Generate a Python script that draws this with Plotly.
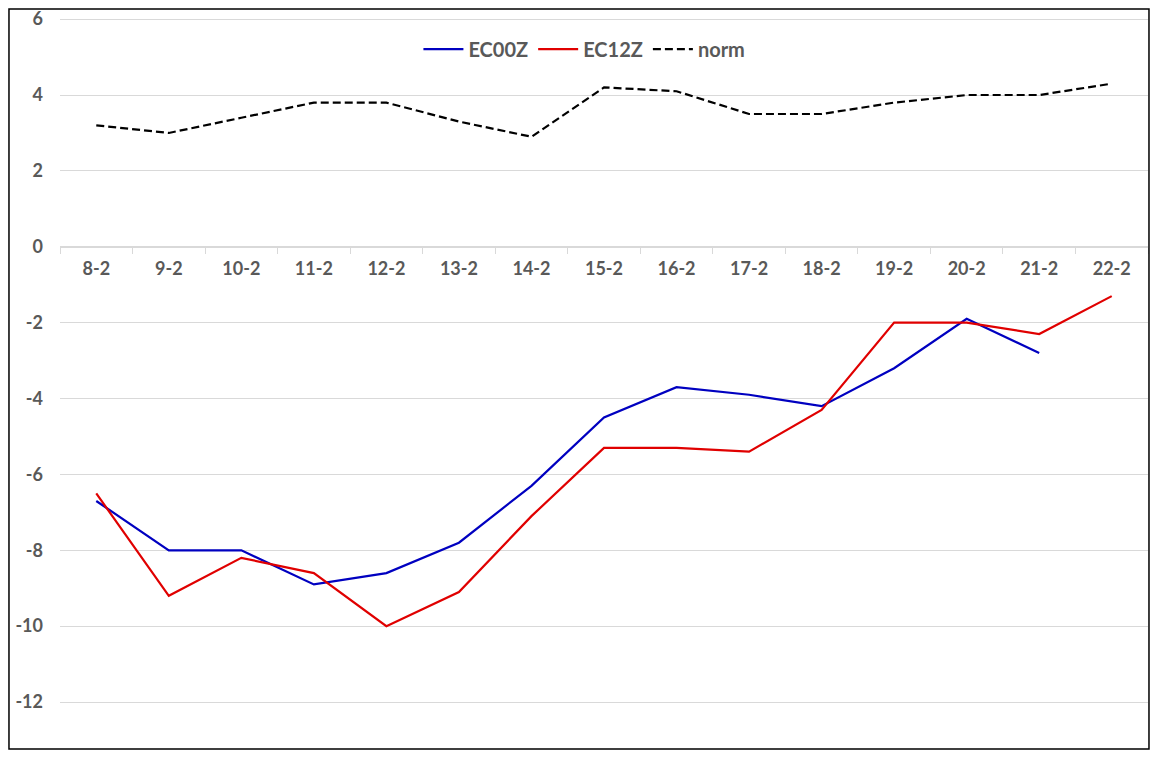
import plotly.graph_objects as go

dates = ["8-2", "9-2", "10-2", "11-2", "12-2", "13-2", "14-2", "15-2",
         "16-2", "17-2", "18-2", "19-2", "20-2", "21-2", "22-2"]
ec00z = [-6.7, -8.0, -8.0, -8.9, -8.6, -7.8, -6.3, -4.5,
         -3.7, -3.9, -4.2, -3.2, -1.9, -2.8, None]
ec12z = [-6.5, -9.2, -8.2, -8.6, -10.0, -9.1, -7.1, -5.3,
         -5.3, -5.4, -4.3, -2.0, -2.0, -2.3, -1.3]
norm = [3.2, 3.0, 3.4, 3.8, 3.8, 3.3, 2.9, 4.2,
        4.1, 3.5, 3.5, 3.8, 4.0, 4.0, 4.3]
y_ticks = [-12, -10, -8, -6, -4, -2, 0, 2, 4, 6]
y_tick_labels = ["-12", "-10", "-8", "-6", "-4", "-2", "0", "2", "4", "6"]

y_min, y_max = -13, 6
grey = "#595959"

fig = go.Figure()
fig.add_trace(go.Scatter(x=dates, y=ec00z, name="EC00Z", mode="lines",
                         line=dict(color="#0000C0", width=2.2)))
fig.add_trace(go.Scatter(x=dates, y=ec12z, name="EC12Z", mode="lines",
                         line=dict(color="#E00000", width=2.2)))
fig.add_trace(go.Scatter(x=dates, y=norm, name="norm", mode="lines",
                         line=dict(color="black", width=2.2, dash="8px,4px")))

# x axis sits on y = 0, like the Excel original
top = y_max + 0.03
zero_pos = (0 - y_min) / (top - y_min)

fig.update_layout(
    width=1142,
    height=742,
    margin=dict(l=52, r=2, t=10, b=10),
    plot_bgcolor="white",
    paper_bgcolor="white",
    font=dict(family="Lato", color=grey),
    legend=dict(orientation="h", x=0.482, xanchor="center", y=0.957, yanchor="middle",
                font=dict(size=20, family="Lato", weight="bold", color=grey),
                bgcolor="rgba(0,0,0,0)", itemwidth=40, tracegroupgap=0),
    xaxis=dict(type="category", range=[-0.5, 14.5], anchor="free", position=zero_pos,
               showline=True, linecolor="#d9d9d9", linewidth=1,
               ticks="outside", tickson="boundaries", ticklen=6, tickcolor="#d9d9d9",
               showgrid=False, ticklabelstandoff=6,
               tickfont=dict(size=18, weight="bold", color=grey)),
    yaxis=dict(range=[y_min, top], tickvals=y_ticks, ticktext=y_tick_labels,
               showgrid=True, gridcolor="#d9d9d9", ticklabeloverflow="allow",
               zeroline=False, showline=False, ticks="", ticklabelstandoff=16,
               automargin=False,
               tickfont=dict(size=18, weight="bold", color=grey)),
    shapes=[dict(type="rect", xref="paper", yref="paper",
                 x0=-0.0469, x1=1.0009, y0=-0.0125, y1=1.0125,
                 line=dict(color="black", width=1.5), layer="above")],
)

fig.write_html("out.html")
